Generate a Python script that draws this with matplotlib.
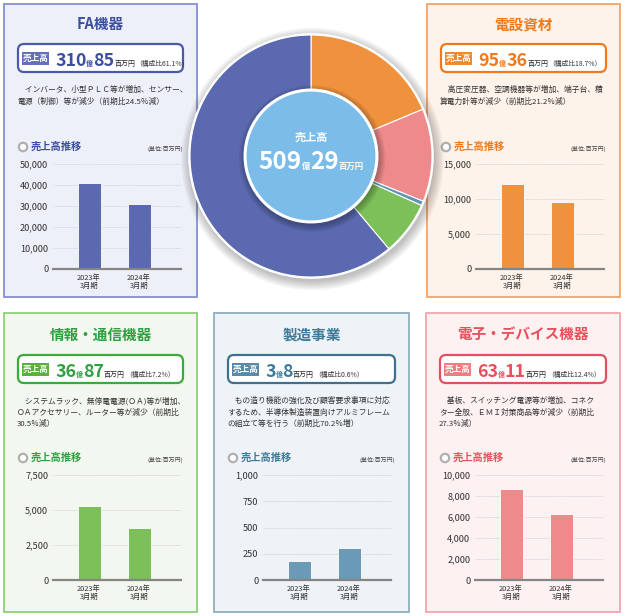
import matplotlib
matplotlib.use('Agg')
import matplotlib.pyplot as plt
from matplotlib.patches import Rectangle, Circle, FancyBboxPatch

plt.rcParams['font.family'] = ['Noto Sans CJK JP', 'DejaVu Sans']

# data (million yen)
segments = ['FA機器', '電設資材', '情報・通信機器', '製造事業', '電子・デバイス機器']
sales_oku = ['310', '95', '36', '3', '63']
sales_man = ['85', '36', '87', '8', '11']
share = [61.1, 18.7, 7.2, 0.6, 12.4]
sales_2023 = [41172, 12102, 5305, 181, 8681]
sales_2024 = [31085, 9536, 3687, 308, 6311]
y_max = [50000, 15000, 7500, 1000, 10000]
y_step = [10000, 5000, 2500, 250, 2000]
years = ['2023年\n3月期', '2024年\n3月期']
descriptions = [
    '　インバータ、小型ＰＬＣ等が増加、センサー、\n電源（制御）等が減少（前期比24.5％減）',
    '　高圧変圧器、空調機器等が増加、端子台、積\n算電力計等が減少（前期比21.2％減）',
    '　システムラック、無停電電源(ＯＡ)等が増加、\nＯＡアクセサリー、ルーター等が減少（前期比\n30.5％減）',
    '　もの造り機能の強化及び顧客要求事項に対応\nするため、半導体製造装置向けアルミフレーム\nの組立て等を行う（前期比70.2％増）',
    '　基板、スイッチング電源等が増加、コネク\nター全般、ＥＭＩ対策商品等が減少（前期比\n27.3％減）',
]
total_oku, total_man = '509', '29'
# donut order clockwise from top
pie_order = [1, 4, 3, 2, 0]

# styles
title_col = ['#3b4ea0', '#ef7a1c', '#2ea040', '#3f7a98', '#e8505c']
panel_bg = ['#eef0f9', '#fef3ea', '#f2f8ef', '#eef3f7', '#fdf1f1']
panel_edge = ['#8690cc', '#f3a468', '#8cd07a', '#90aec0', '#f3a5ab']
box_edge = ['#4a5aa8', '#ef7a1c', '#3aaa3a', '#3f7090', '#e05060']
label_col = ['#6470b8', '#f08a30', '#5cb040', '#5a8aa8', '#ee7e82']
bar_col = ['#5a69b0', '#f0913e', '#7dbf58', '#6b9ab6', '#ee8a8b']
panel_box = [(4, 4, 193, 293), (427, 4, 193, 293), (4, 313, 193, 299),
             (214, 313, 195, 299), (426, 313, 194, 299)]

W, H = 624, 616
fig = plt.figure(figsize=(W / 100, H / 100), dpi=100)
bg = fig.add_axes([0, 0, 1, 1], zorder=0)
bg.set_xlim(0, W)
bg.set_ylim(H, 0)
bg.axis('off')
renderer = fig.canvas.get_renderer()


def fig_rect(x, y, w, h):
    return [x / W, 1 - (y + h) / H, w / W, h / H]


def run_text(ax, x, y, pieces, center=False, z=3):
    texts = []
    widths = []
    for s, size, weight, color in pieces:
        t = ax.text(0, y, s, fontsize=size, fontweight=weight, color=color,
                    va='baseline', ha='left', zorder=z)
        texts.append(t)
        widths.append(t.get_window_extent(renderer).width)
    if center:
        x = x - sum(widths) / 2
    for t, w in zip(texts, widths):
        t.set_x(x)
        x += w
    return x


for i in range(5):
    px, py, pw, ph = panel_box[i]
    dy = 0 if py < 100 else 2
    bg.add_patch(Rectangle((px, py), pw, ph, facecolor=panel_bg[i],
                           edgecolor=panel_edge[i], lw=1.3))
    bg.text(px + pw / 2, py + 20 + dy, segments[i], ha='center', va='center',
            fontsize=10.5, fontweight='bold', color=title_col[i])
    bg.add_patch(FancyBboxPatch((px + 14, py + 40 + dy), pw - 28, 28,
                                boxstyle='round,pad=0,rounding_size=6',
                                facecolor='white', edgecolor=box_edge[i], lw=1.6))
    bg.add_patch(Rectangle((px + 18, py + 48 + dy), 27, 13, facecolor=label_col[i], lw=0))
    bg.text(px + 31.5, py + 54.5 + dy, '売上高', ha='center', va='center',
            fontsize=6.2, fontweight='bold', color='white')
    run_text(bg, px + 51, py + 62 + dy, [
        (sales_oku[i], 12.8, 'bold', title_col[i]),
        ('億', 5, 'bold', title_col[i]),
        (sales_man[i], 12.8, 'bold', title_col[i]),
        ('百万円', 5, 'normal', '#222222'),
        (f'（構成比{share[i]}%）', 4.9, 'normal', '#333333'),
    ])
    bg.text(px + 13, py + 82 + dy, descriptions[i], ha='left', va='top',
            fontsize=5.6, color='#333333', linespacing=1.55)
    # sub header
    bg.add_patch(Circle((px + 19, py + 143 + dy), 4.2, facecolor='white',
                        edgecolor='#b0b0b0', lw=1.6))
    bg.text(px + 27, py + 143 + dy, '売上高推移', ha='left', va='center',
            fontsize=7.4, fontweight='bold', color=title_col[i])
    bg.text(px + pw - 14, py + 145 + dy, '(単位:百万円)', ha='right', va='center',
            fontsize=4.3, color='#444444')

    # bar chart
    ax = fig.add_axes(fig_rect(px + 49, py + 160 + dy, 128, 105), zorder=1)
    ax.patch.set_alpha(0)
    ax.bar([0, 1], [sales_2023[i], sales_2024[i]], width=0.46,
           color=bar_col[i], edgecolor='white', lw=0.6, zorder=3)
    ax.set_xlim(-0.72, 1.84)
    ax.set_ylim(0, y_max[i])
    ticks = list(range(0, y_max[i] + 1, y_step[i]))
    ax.set_yticks(ticks)
    ax.set_yticklabels([f'{t:,}' for t in ticks], fontsize=6.6, color='#333333')
    for t in ticks[1:]:
        ax.axhline(t, color='#d6d6d6', lw=0.6, ls=(0, (2, 1)), zorder=1, clip_on=False)
    ax.axhline(0, color='#858585', lw=1.6, zorder=4, clip_on=False)
    ax.set_xticks([0, 1])
    ax.set_xticklabels(years, fontsize=5.3, color='#333333', linespacing=1.0)
    ax.tick_params(length=0, pad=3.5)
    for s in ax.spines.values():
        s.set_visible(False)

# donut
cx, cy, R = 311, 156, 121
pax = fig.add_axes(fig_rect(cx - R, cy - R, 2 * R, 2 * R), zorder=2)
pax.patch.set_alpha(0)
for k in range(6, 0, -1):
    pax.add_patch(Circle((0.012, -0.025), 1.0 + k * 0.014, color='black',
                         alpha=0.045, lw=0, clip_on=False))
pax.add_patch(Circle((0, 0), 1.015, color='white', lw=0, clip_on=False))
pax.pie([share[j] for j in pie_order], colors=[bar_col[j] if j != 3 else '#5f93b3' for j in pie_order],
        startangle=90, counterclock=False, radius=1.0,
        wedgeprops=dict(width=0.46, edgecolor='white', lw=0.8))
for k in range(5, 0, -1):
    pax.add_patch(Circle((0.01, -0.02), 0.545 + k * 0.012, color='black',
                         alpha=0.06, lw=0))
pax.add_patch(Circle((0, 0), 0.545, facecolor='#7bbde8', edgecolor='white', lw=2.2, zorder=5))
pax.set_xlim(-1, 1)
pax.set_ylim(-1, 1)
pax.set_aspect('equal')
pax.axis('off')

bg2 = fig.add_axes([0, 0, 1, 1], zorder=3)
bg2.set_xlim(0, W)
bg2.set_ylim(H, 0)
bg2.axis('off')
bg2.text(cx, cy - 19, '売上高', ha='center', va='center', fontsize=8,
         color='white', fontweight='bold')
run_text(bg2, cx, cy + 13, [
    (total_oku, 17.5, 'bold', 'white'),
    ('億', 6, 'bold', 'white'),
    (total_man, 17.5, 'bold', 'white'),
    ('百万円', 6, 'bold', 'white'),
], center=True)

fig.savefig('out.png', dpi=100)
